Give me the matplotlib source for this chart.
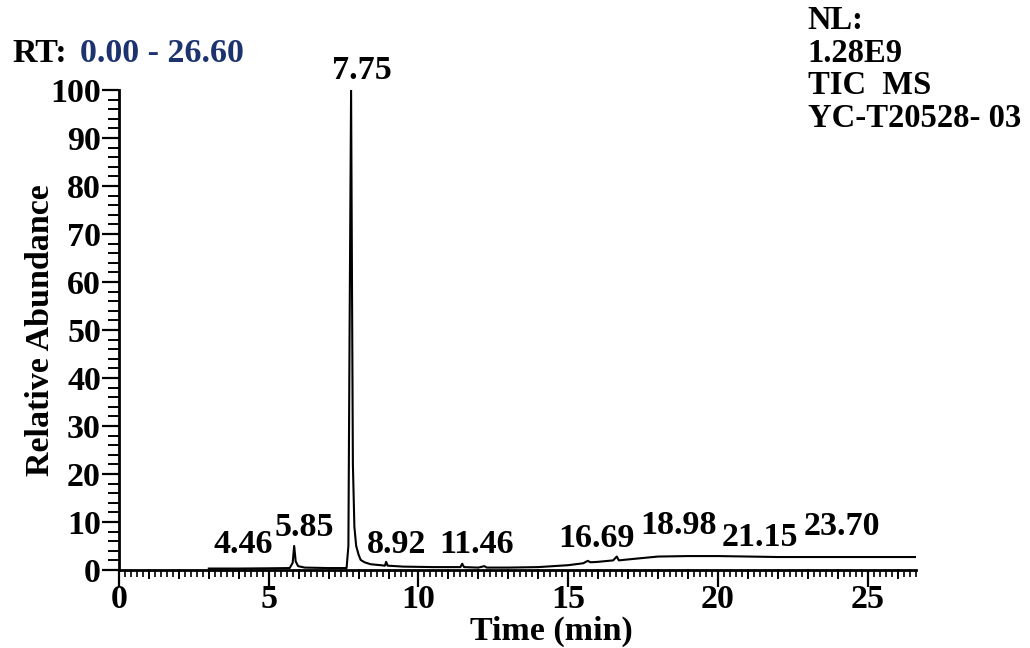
import matplotlib.pyplot as plt
from matplotlib.ticker import MultipleLocator

plt.rcParams['font.family'] = ['Liberation Serif', 'DejaVu Serif']
plt.rcParams['font.weight'] = 'bold'

# trace (time in min, relative abundance in %)
time = [3.0, 4.0, 5.0, 5.7, 5.8, 5.85, 5.9, 5.98, 6.2, 7.0, 7.6, 7.66,
        7.7, 7.75, 7.78, 7.81, 7.86, 7.92, 8.0, 8.07, 8.2, 8.4, 8.73, 8.88,
        8.92, 8.97, 9.5, 10.5, 11.4, 11.46, 11.52, 12.0, 12.2, 12.28, 13.0,
        14.0, 14.5, 15.0, 15.5, 15.65, 15.75, 16.0, 16.5, 16.62, 16.69, 17.0,
        17.5, 18.0, 19.0, 20.0, 21.0, 22.0, 23.0, 24.0, 25.0, 26.6]
abund = [0.3, 0.3, 0.35, 0.4, 1.5, 5.0, 1.8, 0.8, 0.5, 0.4, 0.4, 5.0,
         50.0, 100.0, 60.0, 22.0, 9.0, 5.0, 3.2, 2.1, 1.6, 1.2, 1.0, 0.9,
         1.7, 0.9, 0.7, 0.6, 0.6, 1.3, 0.6, 0.5, 0.8, 0.5, 0.5,
         0.6, 0.8, 1.0, 1.4, 1.9, 1.6, 1.7, 2.0, 2.8, 2.0, 2.2,
         2.5, 2.8, 2.9, 2.9, 2.8, 2.7, 2.7, 2.7, 2.7, 2.7]

# peak labels and where they sit
peak_text = ['4.46', '5.85', '7.75', '8.92', '11.46', '16.69', '18.98', '21.15', '23.70']
label_x = [4.15, 6.2, 8.1, 9.27, 11.93, 15.95, 18.67, 21.4, 24.15]
label_y = [2.0, 5.6, 100.8, 2.0, 2.0, 3.3, 6.0, 3.6, 5.8]

FS = 24.5

fig = plt.figure(figsize=(10.3, 6.48), dpi=100)
ax = fig.add_axes([0.1155, 0.1204, 0.7735, 0.7406])

ax.plot(time, abund, color='black', lw=1.5)

for txt, lx, ly in zip(peak_text, label_x, label_y):
    ax.text(lx, ly, txt, ha='center', va='bottom', fontsize=FS,
            fontweight='bold', clip_on=False)

ax.set_xlim(0, 26.6)
ax.set_ylim(0, 100)
for s in ['top', 'right']:
    ax.spines[s].set_visible(False)
for s in ['left', 'bottom']:
    ax.spines[s].set_linewidth(2)

ax.xaxis.set_major_locator(MultipleLocator(5))
ax.xaxis.set_minor_locator(MultipleLocator(0.2))
ax.yaxis.set_major_locator(MultipleLocator(10))
ax.yaxis.set_minor_locator(MultipleLocator(2))
ax.tick_params(axis='both', which='major', labelsize=FS, width=1.6, length=12, pad=1)
ax.tick_params(axis='x', which='major', pad=-2)
ax.tick_params(axis='x', which='minor', width=1.2, length=5)
ax.tick_params(axis='y', which='minor', width=1.4, length=8)
# medium ticks at whole minutes
for t in range(27):
    if t % 5:
        ax.plot([t, t], [0, -1.6], color='black', lw=1.4, clip_on=False)
for lab in ax.get_xticklabels() + ax.get_yticklabels():
    lab.set_fontweight('bold')

ax.set_xlabel('Time (min)', fontsize=FS, fontweight='bold')
ax.xaxis.set_label_coords(0.543, -0.096)
ax.xaxis.label.set_va('top')
ax.set_ylabel('Relative Abundance', fontsize=FS, fontweight='bold', labelpad=-4)

fig.text(0.012, 0.905, 'RT:', fontsize=FS, fontweight='bold', color='black')
fig.text(0.078, 0.905, '0.00 - 26.60', fontsize=FS, fontweight='bold', color='#1c3370')
fig.text(0.784, 0.992, 'NL:\n1.28E9\nTIC  MS\nYC-T20528- 03', fontsize=23.5,
         fontweight='bold', va='top', linespacing=1.06)

fig.savefig('out.png', dpi=100, facecolor='white')
